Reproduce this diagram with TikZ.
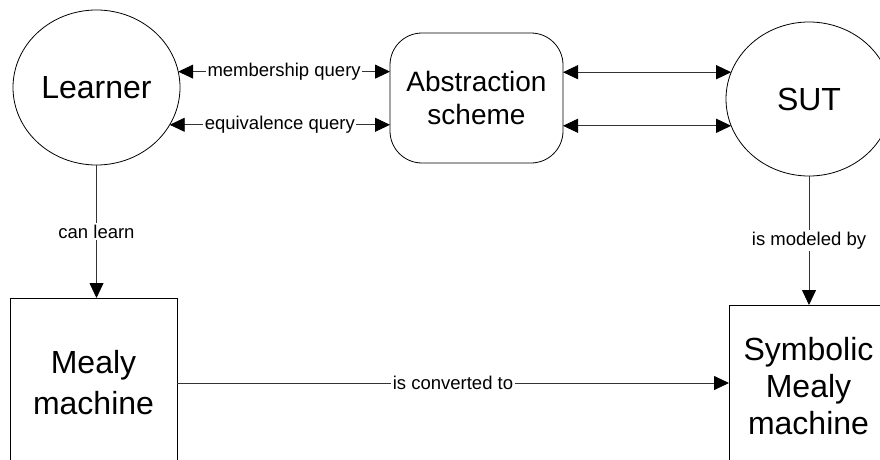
\documentclass[tikz,border=0pt]{standalone}
\usepackage{fontspec}
\setmainfont{Liberation Sans}
\usetikzlibrary{shapes.geometric}
\usetikzlibrary{arrows.meta}
\tikzset{
	big/.style={font=\fontsize{32}{40}\selectfont, align=center, draw, line width=0.8pt, inner sep=0pt, outer sep=0pt},
	blob/.style={big, ellipse, minimum width=167pt, minimum height=155pt},
	box/.style={big, rectangle},
	lbl/.style={font=\fontsize{18.5}{22}\selectfont, fill=white, inner xsep=1.5pt, inner ysep=2pt},
	link/.style={draw=black!80, line width=0.8pt},
	oneway/.style={-{Triangle[length=15pt,width=14pt,color=black]}},
	twoway/.style={{Triangle[length=15pt,width=14pt,color=black]}-{Triangle[length=15pt,width=14pt,color=black]}}
}
\begin{document}
\begin{tikzpicture}[x=1pt,y=-1pt]
		\useasboundingbox (0,0) rectangle (880,460);
		\clip (0,0) rectangle (880,460);
		\node [blob] at (96.5,87.5) (1Learner) {Learner};
		\node [box, rounded corners=32pt, minimum width=173pt, minimum height=130pt, font=\fontsize{28}{33}\selectfont] at (476.5,98) (1Abs) {Abstraction\\scheme};
		\node [blob, minimum width=166pt, minimum height=154pt] at (809,99) (1SUT) {SUT};
		\node [box, minimum width=167pt, minimum height=170pt, font=\fontsize{32}{41}\selectfont] at (93.5,383) (2Mealy) {Mealy\\machine};
		\node [box, minimum width=159pt, minimum height=162pt, font=\fontsize{32}{37}\selectfont] at (808.5,386) (2Sym) {Symbolic\\Mealy\\machine};
		\draw [link, twoway] (1Learner.11) -- node [lbl] {membership query} (1Learner.11 -| 1Abs.west);
		\draw [link, twoway] (1Learner.-27) -- node [lbl] {equivalence query} (1Learner.-27 -| 1Abs.west);
		\draw [link, twoway] (1SUT.161 -| 1Abs.east) -- (1SUT.161);
		\draw [link, twoway] (1SUT.199 -| 1Abs.east) -- (1SUT.199);
		\draw [link, oneway] (1Learner.south) -- node [lbl] {can learn} (1Learner.south |- 2Mealy.north);
		\draw [link, oneway] (1SUT.south) -- node [lbl] {is modeled by} (1SUT.south |- 2Sym.north);
		\draw [link, oneway] (2Mealy.east) -- node [lbl] {is converted to} (2Mealy.east -| 2Sym.west);
		
		\end{tikzpicture}
\end{document}
